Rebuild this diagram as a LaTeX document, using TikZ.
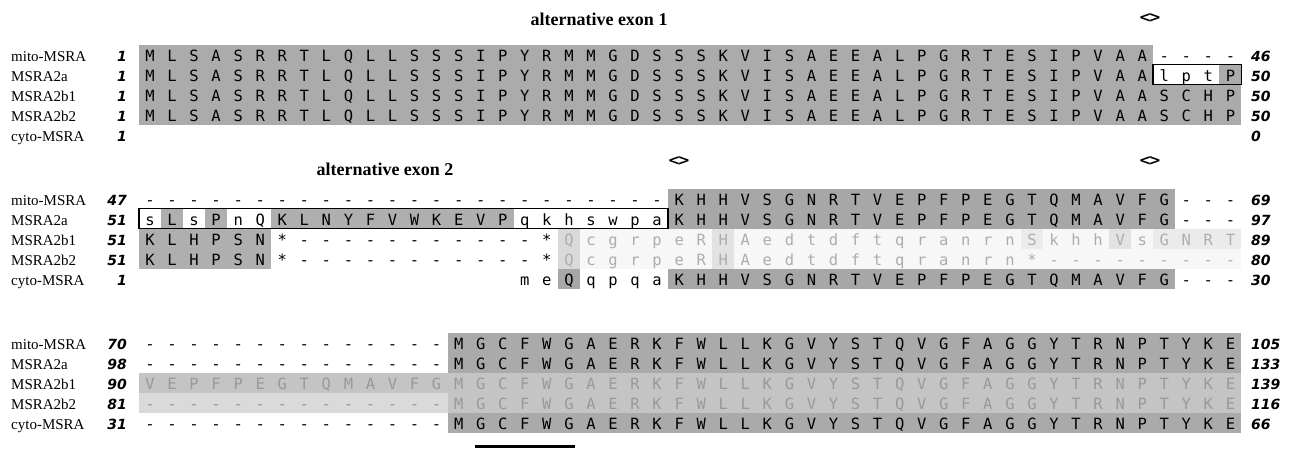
\documentclass[tikz,border=0pt]{standalone}
\usepackage{fontspec}
\setmainfont{Liberation Serif}
\newfontfamily\seqfont{DejaVu Sans Mono}
\newfontfamily\numfont{DejaVu Sans}
\definecolor{gA}{HTML}{ABABAB}
\definecolor{gB}{HTML}{A7A7A7}
\definecolor{gC}{HTML}{AFAFAF}
\definecolor{gQ}{HTML}{D9D9D9}
\definecolor{gH}{HTML}{E2E2E2}
\definecolor{gS}{HTML}{EBEBEB}
\definecolor{gF}{HTML}{F7F7F7}
\definecolor{gD}{HTML}{AAAAAA}
\definecolor{gE}{HTML}{C4C4C4}
\definecolor{gG}{HTML}{DADADA}
\definecolor{tL}{HTML}{ADADAD}
\definecolor{tM}{HTML}{999999}
\tikzset{
 res/.style={font=\seqfont\fontsize{15.5}{16}\selectfont,inner sep=0pt,anchor=base},
 seqname/.style={font=\fontsize{15}{16}\selectfont,inner sep=0pt,anchor=base west},
 lnum/.style={font=\numfont\bfseries\itshape\fontsize{14}{15}\selectfont,inner sep=0pt,anchor=base east},
 rnum/.style={font=\numfont\bfseries\itshape\fontsize{14}{15}\selectfont,inner sep=0pt,anchor=base west},
 header/.style={font=\bfseries\fontsize{18}{19}\selectfont,inner sep=0pt,anchor=base},
 junction/.style={font=\numfont\bfseries\fontsize{15}{16}\selectfont,inner sep=0pt},
 exonbox/.style={draw=black,line width=1.8pt},
 faint/.style={text=tL},
 mid/.style={text=tM},
}
\def\xo{150}
\def\dx{22.05}
\newcommand\seqrow[5][]{\edef\tmplist{#5}%
 \foreach \ch [count=\i from #4] in \tmplist {\node[res,#1] (#2-\i) at ({\xo+\dx*\i},{#3+5.6}) {\ch};}}
\newcommand\cellbg[5]{\fill[#1] ({\xo+\dx*(#4-0.5)},{#2-11.5}) rectangle ({\xo+\dx*(#5+0.5)},{#3+8.5});}
\newcommand\rowlab[5]{% id, y, name, left, right
 \node[seqname] (#1-name) at (11,{#2+5.2}) {#3};
 \node[lnum] (#1-l) at (127,{#2+5.1}) {#4};
 \node[rnum] (#1-r) at (1251,{#2+5.1}) {#5};}
\def\seqA{M,L,S,A,S,R,R,T,L,Q,L,L,S,S,S,I,P,Y,R,M,M,G,D,S,S,S,K,V,I,S,A,E,E,A,L,P,G,R,T,E,S,I,P,V,A,A}
\def\cons{K,H,H,V,S,G,N,R,T,V,E,P,F,P,E,G,T,Q,M,A,V,F,G}
\def\consC{M,G,C,F,W,G,A,E,R,K,F,W,L,L,K,G,V,Y,S,T,Q,V,G,F,A,G,G,Y,T,R,N,P,T,Y,K,E}
\begin{document}
\begin{tikzpicture}[x=1pt,y=-1pt]
\useasboundingbox (0,0) rectangle (1294,448);
% ---------- headers
\node[header] (h1) at (599,25) {alternative exon 1};
\node[junction] (j1) at (1150,18) {<\kern-3pt>};
\node[header] (h2) at (385,175) {alternative exon 2};
\node[junction] (j2) at (679,161) {<\kern-3pt>};
\node[junction] (j3) at (1150,161) {<\kern-3pt>};
% ---------- block 1
\cellbg{gA}{56}{116}{0}{45}
\cellbg{gA}{76}{76}{49}{49}
\cellbg{gA}{96}{116}{46}{49}
\draw[exonbox] ({\xo+\dx*45.5},{76-11.5}) rectangle ({\xo+\dx*49.5},{76+8.5});
\rowlab{a1}{56}{mito-MSRA}{1}{46}
\rowlab{a2}{76}{MSRA2a}{1}{50}
\rowlab{a3}{96}{MSRA2b1}{1}{50}
\rowlab{a4}{116}{MSRA2b2}{1}{50}
\rowlab{a5}{136}{cyto-MSRA}{1}{0}
\seqrow{a1}{56}{0}{\seqA,-,-,-,-}
\seqrow{a2}{76}{0}{\seqA,l,p,t,P}
\seqrow{a3}{96}{0}{\seqA,S,C,H,P}
\seqrow{a4}{116}{0}{\seqA,S,C,H,P}
% ---------- block 2
\cellbg{gB}{200}{220}{24}{46}
\cellbg{gB}{280}{280}{24}{46}
\cellbg{gB}{280}{280}{19}{19}
\cellbg{gC}{220}{220}{1}{1}
\cellbg{gC}{220}{220}{3}{3}
\cellbg{gC}{220}{220}{6}{16}
\cellbg{gC}{240}{260}{0}{5}
\cellbg{gF}{240}{260}{20}{49}
\cellbg{gQ}{240}{260}{19}{19}
\cellbg{gH}{240}{260}{26}{26}
\cellbg{gS}{240}{240}{40}{40}
\cellbg{gH}{240}{240}{44}{44}
\cellbg{gS}{240}{240}{46}{49}
\draw[exonbox] ({\xo+\dx*(-0.5)},{220-11.5}) rectangle ({\xo+\dx*23.5},{220+8.5});
\rowlab{b1}{200}{mito-MSRA}{47}{69}
\rowlab{b2}{220}{MSRA2a}{51}{97}
\rowlab{b3}{240}{MSRA2b1}{51}{89}
\rowlab{b4}{260}{MSRA2b2}{51}{80}
\rowlab{b5}{280}{cyto-MSRA}{1}{30}
\seqrow{b1}{200}{0}{-,-,-,-,-,-,-,-,-,-,-,-,-,-,-,-,-,-,-,-,-,-,-,-,\cons,-,-,-}
\seqrow{b2}{220}{0}{s,L,s,P,n,Q,K,L,N,Y,F,V,W,K,E,V,P,q,k,h,s,w,p,a,\cons,-,-,-}
\seqrow{b3}{240}{0}{K,L,H,P,S,N,*,-,-,-,-,-,-,-,-,-,-,-,*}
\seqrow[faint]{b3}{240}{19}{Q,c,g,r,p,e,R,H,A,e,d,t,d,f,t,q,r,a,n,r,n,S,k,h,h,V,s,G,N,R,T}
\seqrow{b4}{260}{0}{K,L,H,P,S,N,*,-,-,-,-,-,-,-,-,-,-,-,*}
\seqrow[faint]{b4}{260}{19}{Q,c,g,r,p,e,R,H,A,e,d,t,d,f,t,q,r,a,n,r,n,*,-,-,-,-,-,-,-,-,-}
\seqrow{b5}{280}{17}{m,e,Q,q,p,q,a,\cons,-,-,-}
% ---------- block 3
\cellbg{gD}{344}{364}{14}{49}
\cellbg{gD}{424}{424}{14}{49}
\cellbg{gE}{384}{384}{0}{13}
\cellbg{gG}{404}{404}{0}{13}
\cellbg{gE}{384}{404}{14}{49}
\rowlab{c1}{344}{mito-MSRA}{70}{105}
\rowlab{c2}{364}{MSRA2a}{98}{133}
\rowlab{c3}{384}{MSRA2b1}{90}{139}
\rowlab{c4}{404}{MSRA2b2}{81}{116}
\rowlab{c5}{424}{cyto-MSRA}{31}{66}
\seqrow{c1}{344}{0}{-,-,-,-,-,-,-,-,-,-,-,-,-,-,\consC}
\seqrow{c2}{364}{0}{-,-,-,-,-,-,-,-,-,-,-,-,-,-,\consC}
\seqrow[mid]{c3}{384}{0}{V,E,P,F,P,E,G,T,Q,M,A,V,F,G,\consC}
\seqrow[mid]{c4}{404}{0}{-,-,-,-,-,-,-,-,-,-,-,-,-,-,\consC}
\seqrow{c5}{424}{0}{-,-,-,-,-,-,-,-,-,-,-,-,-,-,\consC}
\fill[black] (475,444.5) rectangle (575,448);
\end{tikzpicture}
\end{document}
